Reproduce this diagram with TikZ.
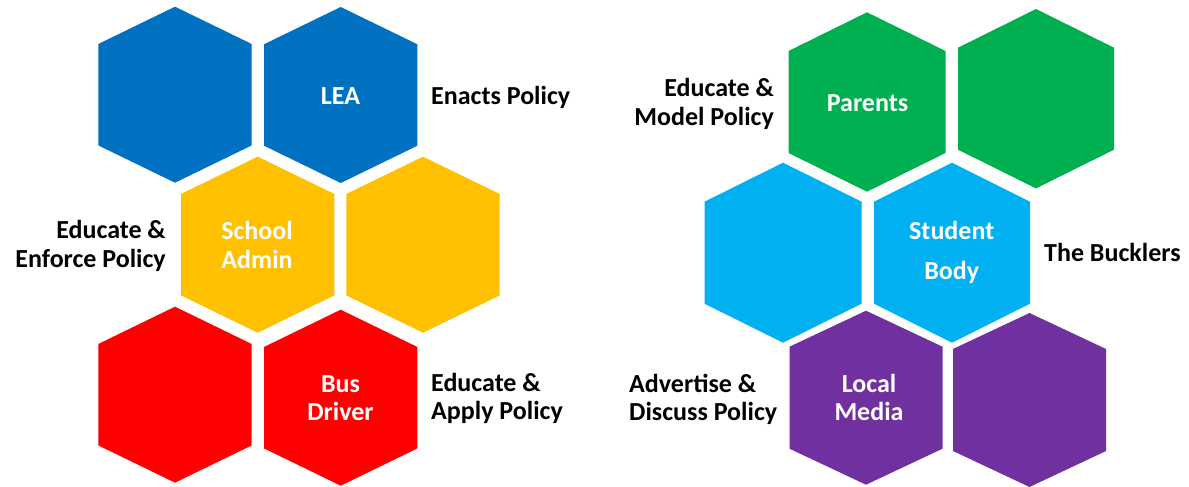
\documentclass[tikz,border=0pt]{standalone}
\usepackage{fontspec}
\setmainfont{Carlito}
\definecolor{hblue}{HTML}{0070C0}
\definecolor{hyellow}{HTML}{FFC000}
\definecolor{hred}{HTML}{FF0000}
\definecolor{hgreen}{HTML}{00B050}
\definecolor{hcyan}{HTML}{00B0F0}
\definecolor{hpurple}{HTML}{7030A0}
% \hexa{cx}{cy}{halfwidth}{halfside}{halfheight}{colour}
\newcommand\hexa[6]{%
  \fill[#6] (#1,#2-#5) -- (#1+#3,#2-#4) -- (#1+#3,#2+#4) -- (#1,#2+#5)
    -- (#1-#3,#2+#4) -- (#1-#3,#2-#4) -- cycle;}
\begin{document}
\begin{tikzpicture}[x=1pt,y=-1pt,
  inlabel/.style={text=white,font=\fontsize{26}{28.5}\selectfont\bfseries,align=center,inner sep=0pt},
  outlabel/.style={text=black,font=\fontsize{26}{28.5}\selectfont\bfseries,inner sep=0pt}]
\useasboundingbox[fill=white] (0,0) rectangle (1189,487);
% left group
\hexa{175}{94.7}{76.7}{50.7}{88}{hblue}
\hexa{340.7}{95}{76.7}{50.7}{88}{hblue}
\hexa{257.7}{244.7}{76.7}{50.7}{88}{hyellow}
\hexa{423}{244.7}{76.7}{50.7}{88}{hyellow}
\hexa{175}{394.7}{76.7}{50.7}{88}{hred}
\hexa{340.7}{397.7}{76.7}{50.7}{88}{hred}
% right group
\hexa{867}{102}{78.5}{51}{89.7}{hgreen}
\hexa{1036}{98.7}{78}{51}{89.7}{hgreen}
\hexa{783}{252.7}{78.5}{51}{90}{hcyan}
\hexa{952}{252.7}{78}{51}{90}{hcyan}
\hexa{866}{397.7}{76.5}{51}{87}{hpurple}
\hexa{1029.5}{400}{76.5}{51}{87}{hpurple}
% labels inside
\node[inlabel] (lea) at (340.5,96) {LEA};
\node[inlabel] (admin) at (257,245) {School\\Admin};
\node[inlabel] (bus) at (340.5,398) {Bus\\Driver};
\node[inlabel] (parents) at (867.5,103) {Parents};
\node[inlabel,font=\fontsize{26}{40}\selectfont\bfseries] (student) at (951.7,252.5) {Student\\Body};
\node[inlabel] (media) at (869,397.5) {Local\\Media};
% labels outside
\node[outlabel,anchor=west] (enacts) at (431,97) {Enacts Policy};
\node[outlabel,anchor=east,align=right] (enforce) at (166,246) {Educate \&\\Enforce Policy};
\node[outlabel,anchor=west,align=left] (apply) at (431,398.5) {Educate \&\\Apply Policy};
\node[outlabel,anchor=east,align=right] (model) at (774,104) {Educate \&\\Model Policy};
\node[outlabel,anchor=west] (bucklers) at (1044,252) {The Bucklers};
\node[outlabel,anchor=west,align=left] (discuss) at (629,399.5) {Advertise \&\\Discuss Policy};
\end{tikzpicture}
\end{document}
